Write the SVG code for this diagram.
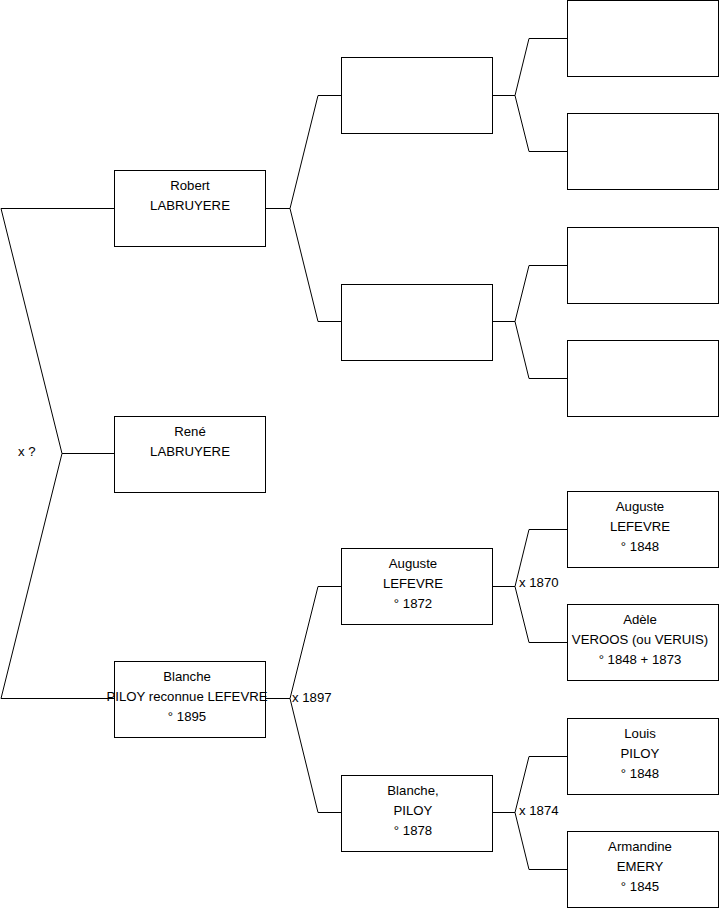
<svg xmlns="http://www.w3.org/2000/svg" width="719" height="908" viewBox="0 0 719 908">
<style>
.box{fill:#fff;stroke:#000;stroke-width:1}
.c{fill:none;stroke:#000;stroke-width:1}
text{font-family:"Liberation Sans",Arial,sans-serif;font-size:13.2px;fill:#000}
.m{text-anchor:middle}
</style>
<rect width="719" height="908" fill="#fff"/>
<g id="connectors">
<polyline class="c" points="114,208.5 1,208.5 62,453.5 1,698.5 114,698.5"/>
<line class="c" x1="62" y1="453.5" x2="114" y2="453.5"/>
<polyline class="c" points="341,95.5 318,95.5 290,208.5 318,321.5 341,321.5"/>
<line class="c" x1="265" y1="208.5" x2="290" y2="208.5"/>
<polyline class="c" points="341,586.5 318,586.5 290,698.5 318,812.5 341,812.5"/>
<line class="c" x1="265" y1="698.5" x2="290" y2="698.5"/>
<polyline class="c" points="567,38.5 529,38.5 515,95.5 529,151.5 567,151.5"/>
<line class="c" x1="492" y1="95.5" x2="515" y2="95.5"/>
<polyline class="c" points="567,265.5 529,265.5 515,321.5 529,378.5 567,378.5"/>
<line class="c" x1="492" y1="321.5" x2="515" y2="321.5"/>
<polyline class="c" points="567,529.5 529,529.5 515,586.5 529,642.5 567,642.5"/>
<line class="c" x1="492" y1="586.5" x2="515" y2="586.5"/>
<polyline class="c" points="567,756.5 529,756.5 515,812.5 529,869.5 567,869.5"/>
<line class="c" x1="492" y1="812.5" x2="515" y2="812.5"/>
<text x="18" y="456">x ?</text>
<text x="292" y="702">x 1897</text>
<text x="519" y="587">x 1870</text>
<text x="519" y="815">x 1874</text>
</g>
<g id="robert"><rect class="box" x="114.5" y="170.5" width="151" height="76"/><text class="m" x="190" y="190">Robert</text><text class="m" x="190" y="210">LABRUYERE</text></g>
<g id="rene"><rect class="box" x="114.5" y="416.5" width="151" height="76"/><text class="m" x="190" y="436">René</text><text class="m" x="190" y="456">LABRUYERE</text></g>
<g id="blanche"><rect class="box" x="114.5" y="661.5" width="151" height="76"/><text class="m" x="187" y="681">Blanche</text><text class="m" x="187" y="701">PILOY reconnue LEFEVRE</text><text class="m" x="187" y="721">° 1895</text></g>
<g id="p1"><rect class="box" x="341.5" y="57.5" width="151" height="76"/></g>
<g id="p2"><rect class="box" x="341.5" y="284.5" width="151" height="76"/></g>
<g id="auguste1872"><rect class="box" x="341.5" y="548.5" width="151" height="76"/><text class="m" x="413" y="568">Auguste</text><text class="m" x="413" y="588">LEFEVRE</text><text class="m" x="413" y="608">° 1872</text></g>
<g id="blanche1878"><rect class="box" x="341.5" y="775.5" width="151" height="76"/><text class="m" x="413" y="795">Blanche,</text><text class="m" x="413" y="815">PILOY</text><text class="m" x="413" y="835">° 1878</text></g>
<g id="g1"><rect class="box" x="567.5" y="0.5" width="151" height="76"/></g>
<g id="g2"><rect class="box" x="567.5" y="113.5" width="151" height="76"/></g>
<g id="g3"><rect class="box" x="567.5" y="227.5" width="151" height="76"/></g>
<g id="g4"><rect class="box" x="567.5" y="340.5" width="151" height="76"/></g>
<g id="auguste1848"><rect class="box" x="567.5" y="491.5" width="151" height="76"/><text class="m" x="640" y="511">Auguste</text><text class="m" x="640" y="531">LEFEVRE</text><text class="m" x="640" y="551">° 1848</text></g>
<g id="adele"><rect class="box" x="567.5" y="604.5" width="151" height="76"/><text class="m" x="640" y="624">Adèle</text><text class="m" x="640" y="644">VEROOS (ou VERUIS)</text><text class="m" x="640" y="664">° 1848 + 1873</text></g>
<g id="louis"><rect class="box" x="567.5" y="718.5" width="151" height="76"/><text class="m" x="640" y="738">Louis</text><text class="m" x="640" y="758">PILOY</text><text class="m" x="640" y="778">° 1848</text></g>
<g id="armandine"><rect class="box" x="567.5" y="831.5" width="151" height="76"/><text class="m" x="640" y="851">Armandine</text><text class="m" x="640" y="871">EMERY</text><text class="m" x="640" y="891">° 1845</text></g>
</svg>
